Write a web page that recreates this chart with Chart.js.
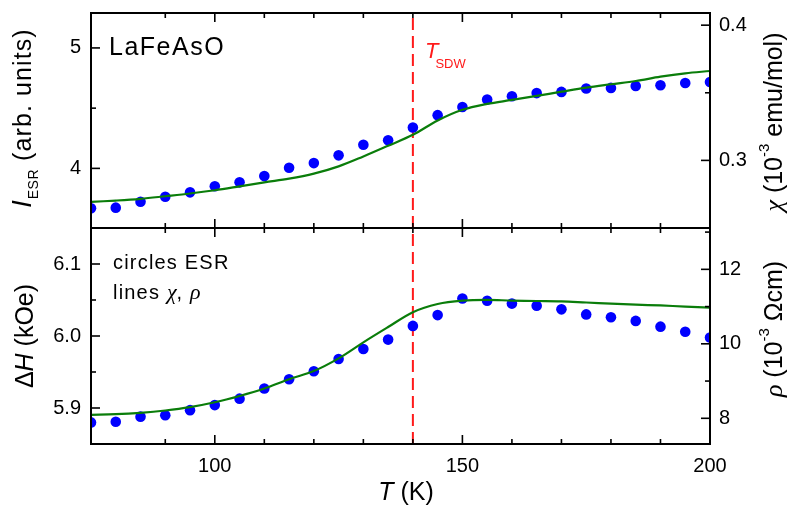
<!DOCTYPE html>
<html>
<head>
<meta charset="utf-8">
<script src="https://cdn.jsdelivr.net/npm/chart.js@4.4.1/dist/chart.umd.min.js"></script>
<style>
  html, body { margin: 0; padding: 0; background: #fff; }
  #wrap { position: relative; width: 788px; height: 507px; }
  canvas { position: absolute; left: 0; }
  #top { top: 0; }
  #bottom { top: 216px; }
</style>
</head>
<body>
<div id="wrap">
  <canvas id="top" width="788" height="240"></canvas>
  <canvas id="bottom" width="788" height="291"></canvas>
</div>
<script>
// values
const temps = [75, 80, 85, 90, 95, 100, 105, 110, 115, 120, 125, 130, 135,
               140, 145, 150, 155, 160, 165, 170, 175, 180, 185, 190, 195, 200];
// top panel: ESR intensity (dots, left) and chi (line, right)
const esrIntensity = [3.669, 3.674, 3.723, 3.765, 3.801, 3.851, 3.884, 3.936, 4.005, 4.044, 4.108, 4.196, 4.234,
                      4.340, 4.442, 4.510, 4.572, 4.599, 4.625, 4.635, 4.663, 4.668, 4.684, 4.690, 4.709, 4.717];
const chi = [0.2693, 0.2703, 0.2716, 0.2735, 0.2755, 0.2779, 0.2808, 0.2838, 0.2865, 0.2902, 0.2956, 0.3029, 0.3108,
             0.3189, 0.3295, 0.3374, 0.3418, 0.3447, 0.3477, 0.3508, 0.3538, 0.3563, 0.3587, 0.3619, 0.3644, 0.3661];
// bottom panel: ESR linewidth (dots, left) and rho (line, right)
const esrWidth = [5.880, 5.881, 5.888, 5.890, 5.897, 5.904, 5.913, 5.927, 5.940, 5.951, 5.968, 5.982, 5.995,
                  6.014, 6.029, 6.052, 6.049, 6.045, 6.042, 6.037, 6.030, 6.026, 6.021, 6.013, 6.006, 5.998];
const rho = [8.094, 8.11, 8.148, 8.21, 8.30, 8.43, 8.60, 8.80, 9.05, 9.27, 9.61, 10.04, 10.45,
             10.85, 11.07, 11.16, 11.18, 11.16, 11.15, 11.14, 11.11, 11.08, 11.05, 11.03, 11.00, 10.97];
const tSDW = 140;

const SANS = '"Liberation Sans", Arial, sans-serif';
const SERIF = '"Liberation Serif", "DejaVu Serif", serif';
const BLUE = '#0000ff', GREEN = '#0a7d0a', RED = '#ff1a1a';

Chart.defaults.font.family = SANS;
Chart.defaults.color = '#000';

function pts(ys) { return temps.map((t, i) => ({ x: t, y: ys[i] })); }

function near(v, step) { return Math.abs(v / step - Math.round(v / step)) < 1e-6; }

// draws a run of text pieces (sub/superscripts, italics) centred or left aligned
function drawRich(ctx, segs, x, y, opts) {
  opts = opts || {};
  ctx.save();
  ctx.translate(x, y);
  if (opts.rotate) ctx.rotate(opts.rotate);
  ctx.fillStyle = opts.color || '#000';
  ctx.textBaseline = 'alphabetic';
  ctx.textAlign = 'left';
  let w = 0;
  segs.forEach(s => {
    ctx.font = s.font; ctx.letterSpacing = s.ls || '0px';
    s.w = ctx.measureText(s.t).width + (s.dx || 0);
    w += s.w;
  });
  let cx = opts.align === 'left' ? 0 : -w / 2;
  segs.forEach(s => {
    ctx.font = s.font; ctx.letterSpacing = s.ls || '0px';
    ctx.fillText(s.t, cx + (s.dx || 0), s.dy || 0);
    cx += s.w;
  });
  ctx.restore();
}

// frame + inward tick marks
const framePlugin = {
  id: 'frame',
  afterDatasetsDraw(chart) {
    const { ctx, chartArea: a } = chart;
    ctx.save();
    ctx.strokeStyle = '#000';
    ctx.lineWidth = 2;
    ctx.strokeRect(a.left, a.top, a.right - a.left, a.bottom - a.top);
    ctx.lineWidth = 1.6;
    Object.values(chart.scales).forEach(s => {
      s.ticks.forEach(t => {
        const len = t.label !== '' ? 9 : 5;
        const p = s.getPixelForValue(t.value);
        ctx.beginPath();
        if (s.axis === 'x') {
          if (p < a.left + 1 || p > a.right - 1) return;
          ctx.moveTo(p, a.top); ctx.lineTo(p, a.top + len);
          ctx.moveTo(p, a.bottom); ctx.lineTo(p, a.bottom - len);
        } else {
          if (p < a.top + 1 || p > a.bottom - 1) return;
          if (s.position === 'left') { ctx.moveTo(a.left, p); ctx.lineTo(a.left + len, p); }
          else { ctx.moveTo(a.right, p); ctx.lineTo(a.right - len, p); }
        }
        ctx.stroke();
      });
    });
    ctx.restore();
  }
};

const tickFont = { family: SANS, size: 20 };
const noGrid = { display: false, drawTicks: false };

function yAxis(pos, min, max, step, label, width, pad) {
  return {
    type: 'linear', position: pos, min: min, max: max,
    grid: noGrid, border: { display: false },
    ticks: { stepSize: step, includeBounds: false, autoSkip: false, padding: pad, font: tickFont, color: '#000', callback: label },
    afterFit: s => { s.width = width; s.paddingTop = 0; s.paddingBottom = 0; }
  };
}

function xAxis(showLabels, height) {
  return {
    type: 'linear', min: 75, max: 200,
    grid: noGrid, border: { display: false },
    ticks: { display: showLabels, stepSize: 10, autoSkip: false, maxRotation: 0, padding: 10, font: tickFont, color: '#000',
             callback: v => (v % 50 === 0 ? String(v) : '') },
    afterFit: s => { s.height = height; s.paddingLeft = 0; s.paddingRight = 0; }
  };
}

function sets(dots, dotAxis, line, lineAxis, yMin, yMax) {
  return [
    { data: pts(line), yAxisID: lineAxis, showLine: true, borderColor: GREEN, borderWidth: 2.2,
      pointRadius: 0, tension: 0.35, fill: false },
    { data: pts(dots), yAxisID: dotAxis, showLine: false, pointRadius: 5.3, pointBorderWidth: 0,
      backgroundColor: BLUE, borderColor: BLUE },
    { data: [{ x: tSDW, y: yMin }, { x: tSDW, y: yMax }], yAxisID: dotAxis, showLine: true,
      borderColor: RED, borderWidth: 2, borderDash: [12, 6], pointRadius: 0 }
  ];
}

const common = {
  responsive: false, animation: false, devicePixelRatio: 1,
  plugins: { legend: { display: false }, tooltip: { enabled: false } }
};

// TOP PANEL
const topText = {
  id: 'topText',
  afterDraw(chart) {
    const ctx = chart.ctx;
    drawRich(ctx, [{ t: 'LaFeAsO', font: '25px ' + SANS, ls: '1.5px' }], 109, 55, { align: 'left' });
    drawRich(ctx, [{ t: 'T', font: 'italic 22px ' + SANS }, { t: 'SDW', font: '13px ' + SANS, dy: 10, dx: -3 }],
             425, 58, { align: 'left', color: RED });
    drawRich(ctx, [{ t: 'I', font: 'italic 27px ' + SANS }, { t: 'ESR', font: '14px ' + SANS, dy: 7, dx: 1, ls: '0.5px' },
                   { t: ' (arb. units)', font: '25px ' + SANS, ls: '1.1px' }], 31, 118, { rotate: -Math.PI / 2 });
    drawRich(ctx, [{ t: '\u03c7', font: 'italic 26px ' + SERIF }, { t: ' (10', font: '25px ' + SANS },
                   { t: '-3', font: '15px ' + SANS, dy: -13 }, { t: ' emu/mol)', font: '25px ' + SANS }],
             782, 122, { rotate: -Math.PI / 2 });
  }
};

new Chart(document.getElementById('top'), {
  type: 'scatter',
  data: { datasets: sets(esrIntensity, 'yL', chi, 'yR', 3.505, 5.29) },
  options: Object.assign({}, common, {
    layout: { padding: { top: 13, bottom: 0, left: 0, right: 0 } },
    scales: {
      x: xAxis(false, 12),
      yL: yAxis('left', 3.505, 5.29, 0.5, v => (near(v, 1) ? String(Math.round(v)) : ''), 91, 10),
      yR: yAxis('right', 0.25, 0.409, 0.05, v => (near(v, 0.1) ? v.toFixed(1) : ''), 78, 9)
    }
  }),
  plugins: [framePlugin, topText]
});

// BOTTOM PANEL
const bottomText = {
  id: 'bottomText',
  afterDraw(chart) {
    const ctx = chart.ctx;
    drawRich(ctx, [{ t: 'circles ESR', font: '20px ' + SANS, ls: '1.2px' }], 113, 53, { align: 'left' });
    drawRich(ctx, [{ t: 'lines ', font: '20px ' + SANS, ls: '1.2px' }, { t: '\u03c7', font: 'italic 22px ' + SERIF },
                   { t: ', ', font: '20px ' + SANS, ls: '1.2px' }, { t: '\u03c1', font: 'italic 22px ' + SERIF }],
             113, 83, { align: 'left' });
    drawRich(ctx, [{ t: '\u0394', font: '25px ' + SANS }, { t: 'H', font: 'italic 25px ' + SANS },
                   { t: ' (kOe)', font: '25px ' + SANS }], 33, 120, { rotate: -Math.PI / 2 });
    drawRich(ctx, [{ t: '\u03c1', font: 'italic 26px ' + SERIF }, { t: ' (10', font: '25px ' + SANS },
                   { t: '-3', font: '15px ' + SANS, dy: -13 }, { t: ' \u03a9cm)', font: '25px ' + SANS }],
             782, 113, { rotate: -Math.PI / 2 });
    drawRich(ctx, [{ t: 'T', font: 'italic 25px ' + SANS }, { t: ' (K)', font: '25px ' + SANS }], 406, 284);
  }
};

new Chart(document.getElementById('bottom'), {
  type: 'scatter',
  data: { datasets: sets(esrWidth, 'yL', rho, 'yR', 5.85, 6.15) },
  options: Object.assign({}, common, {
    layout: { padding: { top: 12, bottom: 0, left: 0, right: 0 } },
    scales: {
      x: xAxis(true, 63),
      yL: yAxis('left', 5.85, 6.15, 0.05, v => (near(v, 0.1) ? v.toFixed(1) : ''), 91, 10),
      yR: yAxis('right', 7.31, 13.11, 1, v => (near(v, 2) ? String(Math.round(v)) : ''), 78, 9)
    }
  }),
  plugins: [framePlugin, bottomText]
});
</script>
</body>
</html>
